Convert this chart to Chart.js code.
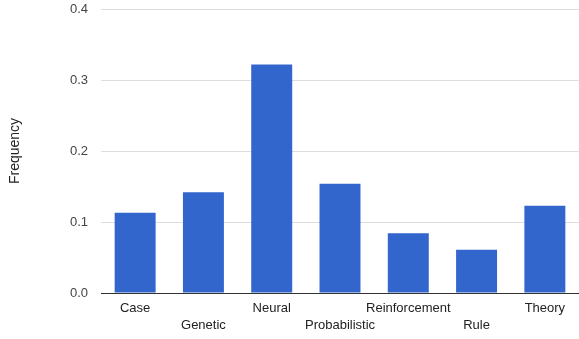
<!DOCTYPE html>
<html>
<head>
<meta charset="utf-8">
<script src="https://cdn.jsdelivr.net/npm/chart.js@4.4.0/dist/chart.umd.min.js"></script>
<style>
  html, body { margin: 0; padding: 0; background: #fff; }
  #wrap { width: 579px; height: 339px; }
</style>
</head>
<body>
<div id="wrap"><canvas id="freqChart" width="579" height="339"></canvas></div>
<script>
const categories = ['Case', 'Genetic', 'Neural', 'Probabilistic', 'Reinforcement', 'Rule', 'Theory'];
const frequency = [0.113, 0.142, 0.322, 0.154, 0.084, 0.061, 0.123];
const yTicks = [0.0, 0.1, 0.2, 0.3, 0.4];

const ctx = document.getElementById('freqChart').getContext('2d');

// labels alternate between two rows, like the original
function staggerLabel(value, index) {
  const name = categories[index];
  return index % 2 === 1 ? ['', name] : name;
}

new Chart(ctx, {
  type: 'bar',
  data: {
    labels: categories,
    datasets: [
      {
        label: 'Frequency',
        data: frequency,
        backgroundColor: '#3366cc',
        borderWidth: 0,
        barPercentage: 0.6,
        categoryPercentage: 1,
      },
    ],
  },
  options: {
    responsive: false,
    animation: false,
    layout: { padding: 0 },
    plugins: { legend: { display: false }, tooltip: { enabled: false } },
    scales: {
      x: {
        grid: { display: false, drawTicks: false },
        border: { display: true, color: '#333', width: 1 },
        afterFit: (scale) => {
          scale.height = 46;
        },
        ticks: {
          autoSkip: false,
          maxRotation: 0,
          padding: 7,
          color: '#222',
          font: { family: 'Liberation Sans, Arial, sans-serif', size: 13, lineHeight: 1.31 },
          callback: staggerLabel,
        },
      },
      y: {
        min: yTicks[0],
        max: yTicks[yTicks.length - 1],
        afterBuildTicks: (scale) => {
          scale.ticks = yTicks.map((v) => ({ value: v }));
        },
        afterFit: (scale) => {
          scale.width = 101;
          scale.paddingTop = 9;
          scale.paddingBottom = 0;
        },
        grid: { color: '#dddddd', drawTicks: false },
        border: { display: false },
        ticks: {
          padding: 13,
          color: '#444',
          font: { family: 'Liberation Sans, Arial, sans-serif', size: 13 },
          callback: (v) => Number(v).toFixed(1),
        },
        title: {
          display: true,
          text: 'Frequency',
          color: '#222',
          padding: { top: 6.5, bottom: 0 },
          font: { family: 'Liberation Sans, Arial, sans-serif', size: 14 },
        },
      },
    },
  },
});
</script>
</body>
</html>
